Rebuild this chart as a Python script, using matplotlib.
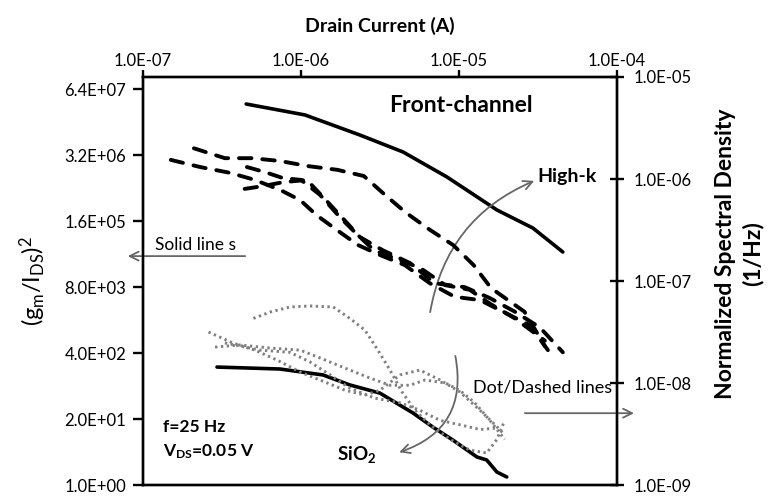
import numpy as np
import matplotlib
matplotlib.use('Agg')
import matplotlib.pyplot as plt
from matplotlib.patches import FancyArrowPatch

plt.rcParams['font.family'] = ['Lato', 'DejaVu Sans']
plt.rcParams['mathtext.fontset'] = 'custom'
plt.rcParams['mathtext.rm'] = 'Lato'
plt.rcParams['mathtext.it'] = 'Lato:italic'
plt.rcParams['mathtext.bf'] = 'Lato:bold'

# x: drain current (A)
x_ticks = [1e-7, 1e-6, 1e-5, 1e-4]
x_labels = ['1.0E-07', '1.0E-06', '1.0E-05', '1.0E-04']
# left axis (gm/Ids)^2
gm_ticks = [1.0, 20.0, 400.0, 8.0e3, 1.6e5, 3.2e6, 6.4e7]
gm_labels = ['1.0E+00', '2.0E+01', '4.0E+02', '8.0E+03', '1.6E+05', '3.2E+06', '6.4E+07']
# right axis spectral density
sd_ticks = [1e-9, 1e-8, 1e-7, 1e-6, 1e-5]
sd_labels = ['1.0E-09', '1.0E-08', '1.0E-07', '1.0E-06', '1.0E-05']

# solid lines -> left axis
hk_id = [4.5e-7, 1.06e-6, 2.36e-6, 4.43e-6, 8.4e-6, 1.74e-5, 2.94e-5, 4.55e-5]
hk_gm = [3.27e7, 1.99e7, 8.0e6, 3.7e6, 1.19e6, 2.66e5, 1.17e5, 3.94e4]
sio_id = [2.94e-7, 7.36e-7, 1.38e-6, 2.04e-6, 3.16e-6, 5.12e-6, 6.84e-6, 9.16e-6, 1.30e-5, 1.50e-5, 1.74e-5, 2.01e-5]
sio_gm = [212, 194, 148, 94, 65, 26.3, 13.9, 7.7, 3.57, 3.11, 1.80, 1.44]

# dashed lines (high-k) -> right axis
d1_id = [2.1e-7, 3.3e-7, 4.9e-7, 7.4e-7, 1.1e-6, 1.7e-6, 2.5e-6, 3.4e-6, 4.6e-6, 6.5e-6, 9.2e-6, 1.24e-5, 1.6e-5, 2.6e-5, 3.5e-5]
d1_sd = [2.0e-6, 1.6e-6, 1.6e-6, 1.5e-6, 1.34e-6, 1.23e-6, 1.07e-6, 7.0e-7, 4.7e-7, 3.2e-7, 2.25e-7, 1.43e-7, 8.5e-8, 5.0e-8, 2.3e-8]
d2_id = [1.5e-7, 2.3e-7, 3.55e-7, 5.1e-7, 7.4e-7, 9.9e-7, 1.26e-6, 1.77e-6, 2.3e-6, 3.16e-6, 4.55e-6, 6.55e-6, 9.4e-6, 1.36e-5, 1.95e-5, 2.8e-5, 3.66e-5]
d2_sd = [1.54e-6, 1.31e-6, 1.15e-6, 9.8e-7, 7.8e-7, 6.2e-7, 4.4e-7, 3.0e-7, 2.25e-7, 1.8e-7, 1.43e-7, 9.5e-8, 7.0e-8, 6.5e-8, 4.9e-8, 3.7e-8, 2.1e-8]
d3_id = [4.4e-7, 5.7e-7, 7.7e-7, 1.09e-6, 1.44e-6, 1.9e-6, 2.36e-6, 3.3e-6, 4.9e-6, 7.05e-6, 1.09e-5, 1.57e-5, 2.26e-5, 3.26e-5, 4.55e-5]
d3_sd = [8.0e-7, 8.5e-7, 9.3e-7, 9.8e-7, 6.2e-7, 3.9e-7, 2.7e-7, 2.0e-7, 1.5e-7, 9.5e-8, 8.7e-8, 6.8e-8, 5.0e-8, 3.5e-8, 2.0e-8]
d4_id = [4.55e-7, 5.9e-7, 7.7e-7, 1.0e-6, 1.32e-6, 1.77e-6, 2.2e-6, 2.9e-6, 3.9e-6, 5.7e-6, 8.2e-6, 1.17e-5, 1.57e-5, 2.26e-5, 3.5e-5]
d4_sd = [1.31e-6, 1.17e-6, 1.02e-6, 9.8e-7, 7.0e-7, 4.2e-7, 3.0e-7, 2.0e-7, 1.68e-7, 1.34e-7, 9.1e-8, 8.2e-8, 6.0e-8, 4.3e-8, 2.6e-8]

# dotted lines (SiO2) -> right axis
p1_id = [5.0e-7, 6.4e-7, 8.5e-7, 1.14e-6, 1.6e-6, 2.04e-6, 2.54e-6, 3.07e-6, 3.66e-6, 4.36e-6, 5.27e-6, 6.55e-6, 8.8e-6, 1.17e-5, 1.5e-5, 1.74e-5, 1.95e-5]
p1_sd = [4.3e-8, 4.97e-8, 5.56e-8, 5.69e-8, 5.56e-8, 4.3e-8, 3.3e-8, 2.1e-8, 1.34e-8, 8.2e-9, 5.4e-9, 3.9e-9, 2.8e-9, 2.2e-9, 2.06e-9, 2.8e-9, 4.3e-9]
p2_id = [2.6e-7, 3.7e-7, 5.1e-7, 7.05e-7, 9.9e-7, 1.32e-6, 1.9e-6, 2.54e-6, 3.16e-6, 4.24e-6, 5.66e-6, 7.6e-6, 1.01e-5, 1.36e-5, 1.69e-5, 1.95e-5]
p2_sd = [3.16e-8, 2.47e-8, 2.1e-8, 1.68e-8, 1.28e-8, 1.07e-8, 8.5e-9, 7.6e-9, 8.5e-9, 1.2e-8, 1.34e-8, 1.07e-8, 8.2e-9, 5.4e-9, 3.9e-9, 3.1e-9]
p3_id = [2.86e-7, 4.1e-7, 6.4e-7, 9.9e-7, 1.32e-6, 1.9e-6, 2.73e-6, 3.66e-6, 4.9e-6, 6.1e-6, 8.2e-6, 1.01e-5, 1.26e-5, 1.57e-5, 1.95e-5]
p3_sd = [2.25e-8, 2.36e-8, 2.2e-8, 2.1e-8, 1.76e-8, 1.4e-8, 1.12e-8, 9.5e-9, 9.5e-9, 1.07e-8, 1.0e-8, 8.5e-9, 6.4e-9, 4.3e-9, 2.8e-9]
p4_id = [3.3e-7, 5.5e-7, 8.5e-7, 1.14e-6, 1.53e-6, 2.04e-6, 2.94e-6, 4.24e-6, 5.66e-6, 7.6e-6, 1.01e-5, 1.36e-5, 1.69e-5]
p4_sd = [2.47e-8, 2.1e-8, 2.0e-8, 1.61e-8, 1.2e-8, 8.9e-9, 7.1e-9, 6.4e-9, 5.4e-9, 4.3e-9, 3.9e-9, 3.5e-9, 3.6e-9]

fig = plt.figure(figsize=(7.73, 5), dpi=100)
ax = fig.add_axes([0.185, 0.03, 0.613, 0.816])
ax2 = ax.twinx()

for a in (ax, ax2):
    a.set_xscale('log')
    a.set_yscale('log')
    for s in a.spines.values():
        s.set_linewidth(1.7)

ax.set_xlim(1e-7, 1e-4)
ax.set_ylim(1.0, 1.115e8)
ax2.set_ylim(1e-9, 1e-5)

ax.plot(hk_id, hk_gm, color='black', lw=2.6, solid_capstyle='round')
ax.plot(sio_id, sio_gm, color='black', lw=2.6, solid_capstyle='round')

dash = (0, (3.2, 2.8))
for xs, ys in [(d1_id, d1_sd), (d2_id, d2_sd), (d3_id, d3_sd), (d4_id, d4_sd)]:
    ax2.plot(xs, ys, color='black', lw=2.8, linestyle=dash, dash_capstyle='round')
for xs, ys in [(p1_id, p1_sd), (p2_id, p2_sd), (p3_id, p3_sd), (p4_id, p4_sd)]:
    ax2.plot(xs, ys, color='#808080', lw=2.1, linestyle=(0, (0.8, 1.2)))

# ticks
ax.xaxis.tick_top()
ax.set_xticks(x_ticks)
ax.set_xticklabels(x_labels)
ax.xaxis.set_minor_locator(matplotlib.ticker.NullLocator())
ax.tick_params(axis='x', which='major', top=True, bottom=False, direction='out',
               length=5, width=1.7, labelsize=12, pad=1)
ax2.tick_params(axis='x', which='both', top=False, bottom=False, labeltop=False, labelbottom=False)

ax.set_yticks(gm_ticks)
ax.set_yticklabels(gm_labels)
ax.yaxis.set_minor_locator(matplotlib.ticker.NullLocator())
ax.tick_params(axis='y', which='major', direction='out', length=7, width=1.7,
               labelsize=12, pad=5)

ax2.set_yticks(sd_ticks)
ax2.set_yticklabels(sd_labels)
ax2.yaxis.set_minor_locator(matplotlib.ticker.NullLocator())
ax2.tick_params(axis='y', which='major', direction='inout', length=10, width=1.7,
                labelsize=12, pad=7)

ax.set_xlabel('Drain Current (A)', fontsize=14, fontweight='bold', labelpad=15)
ax.xaxis.set_label_position('top')
ax.set_ylabel(r'(g$_\mathrm{m}$/I$_\mathrm{DS}$)$^2$', fontsize=17, labelpad=12)
fig.text(0.956, 0.492, 'Normalized Spectral Density\n(1/Hz)', rotation=90,
         ha='center', va='center', fontsize=16.5, fontweight='bold',
         multialignment='center', linespacing=1.3)

# annotations
T = ax.transAxes
ax.text(0.671, 0.931, 'Front-channel', transform=T, ha='center', va='center',
        fontsize=16.5, fontweight='bold')
ax.text(0.833, 0.755, 'High-k', transform=T, ha='left', va='center',
        fontsize=14, fontweight='bold')
ax.text(0.042, 0.142, 'f=25 Hz', transform=T, ha='left', va='center',
        fontsize=12.5, fontweight='bold')
ax.text(0.042, 0.081, r'V$_\mathbf{DS}$=0.05 V', transform=T, ha='left', va='center',
        fontsize=12.5, fontweight='bold')
ax.text(0.409, 0.074, r'SiO$_\mathbf{2}$', transform=T, ha='left', va='center',
        fontsize=13.5, fontweight='bold')
ax.text(0.025, 0.588, 'Solid line s', transform=T, ha='left', va='center',
        fontsize=12.5)
ax.text(0.696, 0.238, 'Dot/Dashed lines', transform=T, ha='left', va='center',
        fontsize=13)

arrow_kw = dict(arrowstyle='->', mutation_scale=16, color='#666666', lw=1.3,
                transform=T, clip_on=False)
for (p0, p1, rad) in [((0.2215, 0.561), (-0.038, 0.561), 0.0),
                      ((0.800, 0.176), (1.042, 0.176), 0.0),
                      ((0.605, 0.417), (0.831, 0.748), -0.28),
                      ((0.658, 0.323), (0.535, 0.078), -0.45)]:
    arr = FancyArrowPatch(p0, p1, connectionstyle='arc3,rad=%g' % rad, **arrow_kw)
    ax2.add_patch(arr)

fig.savefig('out.png', dpi=100)
